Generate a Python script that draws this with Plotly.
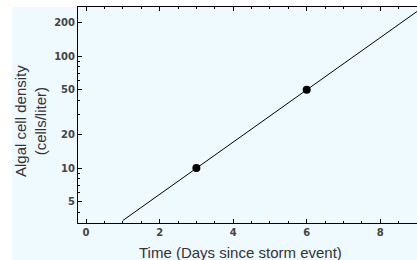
import plotly.graph_objects as go

# Data
obs_days = [3, 6]
obs_density = [10, 50]
fit_days = [1, 9]
fit_density = [3.4, 250]
x_tick_vals = [0, 2, 4, 6, 8]
y_tick_vals = [5, 10, 20, 50, 100, 200]
y_minor_vals = [4, 6, 7, 8, 9, 30, 40, 60, 70, 80, 90]

W, H = 417, 260
L, R, T, B = 78, 0, 7, 37
BG = "#EEFAFF"
FONT = "Liberation Sans, Arial, sans-serif"
TICKFONT = dict(family="DejaVu Sans", size=10, color="#444", weight="bold")

fig = go.Figure()
fig.add_trace(go.Scatter(x=fit_days, y=fit_density, mode="lines",
                         line=dict(color="black", width=1), showlegend=False,
                         hoverinfo="skip"))
fig.add_trace(go.Scatter(x=obs_days, y=obs_density, mode="markers",
                         marker=dict(color="black", size=8), showlegend=False))

fig.update_layout(
    width=W, height=H,
    margin=dict(l=L, r=R, t=T, b=B, autoexpand=False),
    paper_bgcolor="white",
    plot_bgcolor=BG,
    font=dict(family=FONT, color="#333"),
    shapes=[dict(type="rect", xref="paper", yref="paper", layer="below",
                 x0=-(L - 12) / (W - L - R), x1=1,
                 y0=-B / (H - T - B), y1=1,
                 fillcolor=BG, line=dict(width=0))],
    xaxis=dict(range=[-0.22, 9.0], showgrid=False, zeroline=False,
               showline=True, linecolor="black", linewidth=1, mirror="ticks",
               ticks="inside", ticklen=4, tickcolor="black",
               tickvals=x_tick_vals, automargin=False,
               tickfont=TICKFONT,
               minor=dict(dtick=0.5, ticks="inside", ticklen=2, tickcolor="black", showgrid=False)),
    yaxis=dict(type="log", range=[0.509, 2.438], showgrid=False, zeroline=False,
               showline=True, linecolor="black", linewidth=1, mirror=False,
               ticks="inside", ticklen=4, tickcolor="black", automargin=False,
               tickvals=y_tick_vals, ticktext=[str(v) for v in y_tick_vals],
               tickfont=TICKFONT,
               minor=dict(tickmode="array", tickvals=y_minor_vals, ticks="inside",
                          ticklen=2, tickcolor="black", showgrid=False)),
    annotations=[
        dict(text="Time (Days since storm event)", xref="paper", yref="paper",
             x=(240 - L) / (W - L - R), y=-(252 - (H - B)) / (H - T - B),
             showarrow=False, xanchor="center", yanchor="middle",
             font=dict(family=FONT, size=15, color="#333")),
        dict(text="Algal cell density<br>(cells/liter)", xref="paper", yref="paper",
             x=-(L - 30) / (W - L - R), y=1 - (121 - T) / (H - T - B),
             showarrow=False, xanchor="center", yanchor="middle", textangle=-90,
             font=dict(family=FONT, size=15, color="#333")),
    ],
)

fig.write_html("out.html", config={"displayModeBar": False},
               post_script="document.body.style.margin='0';document.body.style.overflow='hidden';")
